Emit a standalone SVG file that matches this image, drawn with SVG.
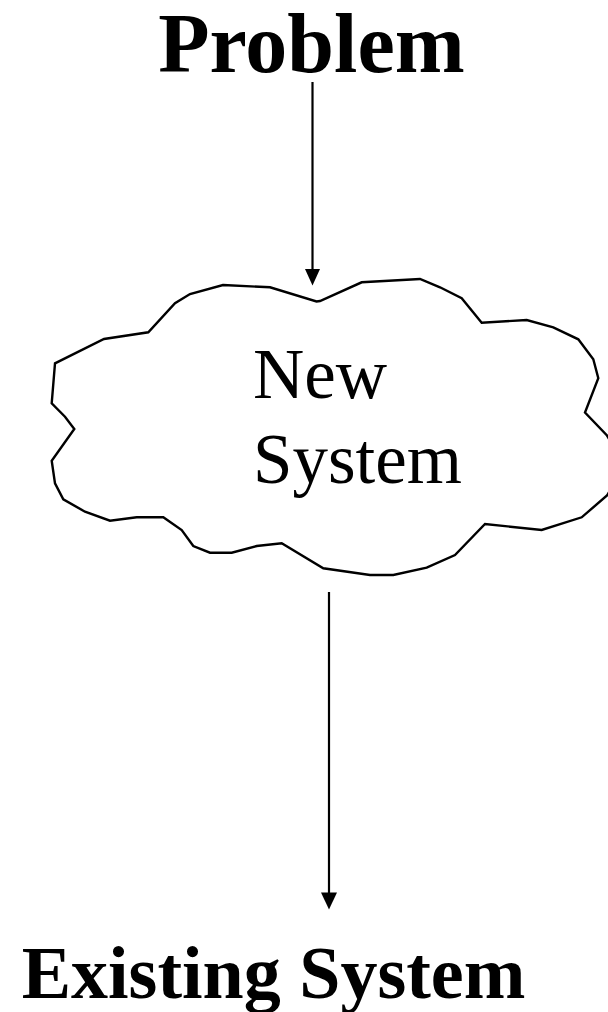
<svg xmlns="http://www.w3.org/2000/svg" width="608" height="1012" viewBox="0 0 608 1012">
  <style>
    .title { font-family: "Liberation Serif", "Times New Roman", serif; font-weight: bold; fill: #000; text-anchor: middle; }
    .label { font-family: "Liberation Serif", "Times New Roman", serif; fill: #000; font-size: 71px; }
    .edge { stroke: #000; stroke-width: 2.2; fill: none; }
    .head { fill: #000; stroke: none; }
    .cloud { fill: #fff; stroke: #000; stroke-width: 2.4; stroke-linejoin: miter; }
  </style>
  <rect width="608" height="1012" fill="#fff"/>

  <g id="node-problem">
    <text class="title" x="311.5" y="72" font-size="84">Problem</text>
  </g>

  <g id="node-new-system">
    <polygon class="cloud" points="223,285 270,287.3 316.5,301.5 320,301 361.7,282.3 420,279 440,287.3 461.7,298.3 481.7,322.7 526.7,320 553.3,327.3 578.3,339.3 593.3,359.3 598.3,378.3 585,412.5 607,435.5 625,465 607,495.5 581.7,517.3 541.7,530 485,524 455,555 426.7,567.7 393.3,575 370,575 323.3,568.3 281.7,543.3 256.7,546 231.7,552.7 210,552.7 193.3,546 181.7,530 163.3,517.3 136.7,517.3 110,520.7 85,511.7 63.3,499.3 55,483.3 51.7,460.7 74.3,429 65,416.7 51.7,403.3 55,363.3 104,339 148.3,332.3 175,303.3 190,294"/>
    <text class="label" x="253" y="398">New</text>
    <text class="label" x="253" y="483">System</text>
  </g>

  <g id="node-existing-system">
    <text class="title" x="273.5" y="998" font-size="74">Existing System</text>
  </g>

  <g id="connectors">
    <line class="edge" x1="312.5" y1="82" x2="312.5" y2="271"/>
    <polygon class="head" points="305,269 320,269 312.5,285.5"/>
    <line class="edge" x1="329" y1="592" x2="329" y2="895"/>
    <polygon class="head" points="321,892.5 337,892.5 329,909.5"/>
  </g>
</svg>
